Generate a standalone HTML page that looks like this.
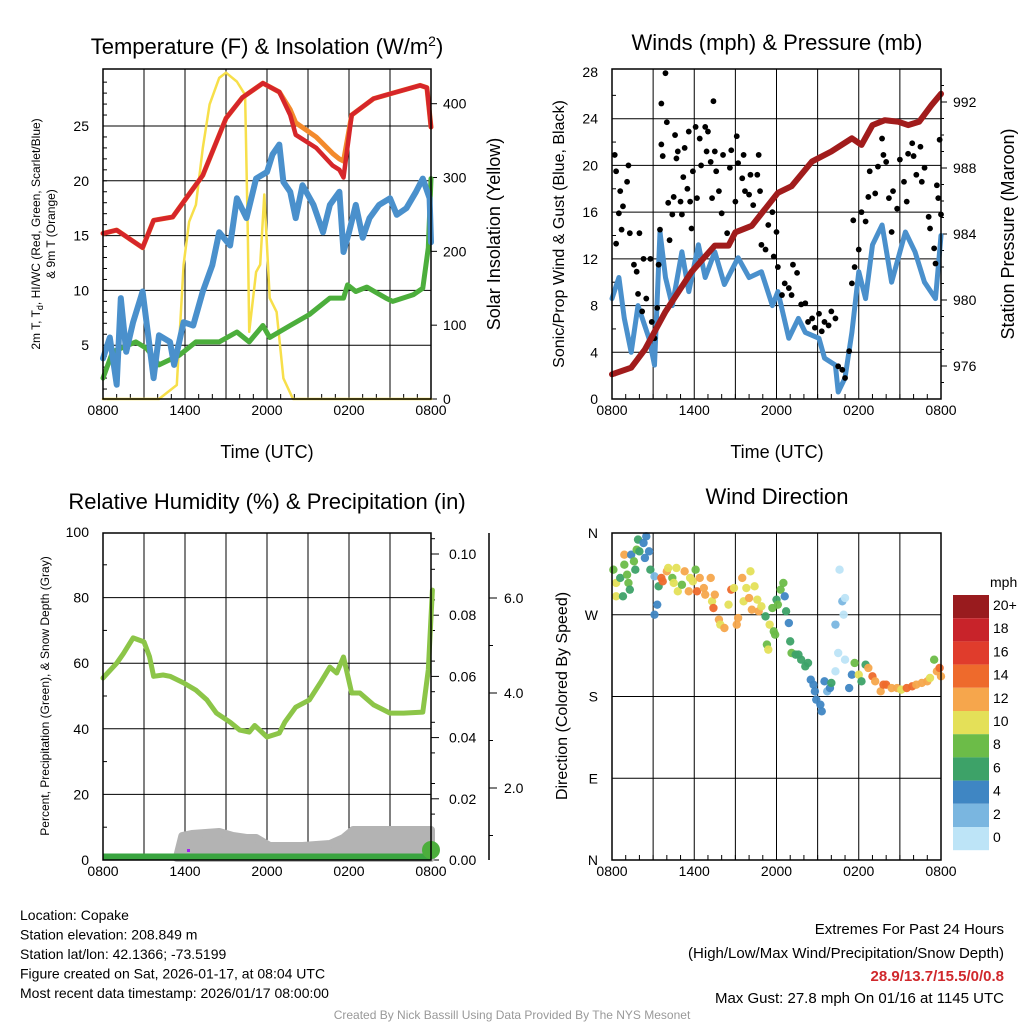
<!DOCTYPE html>
<html><head><meta charset="utf-8"><style>
body{margin:0;background:#fff;font-family:"Liberation Sans",sans-serif}
svg{display:block}
</style></head><body>
<svg id="s" width="1024" height="1024" viewBox="0 0 1024 1024" xmlns="http://www.w3.org/2000/svg" font-family="Liberation Sans, sans-serif"></svg>
<script>
// ---- data ----
const xTickLabels=["0800","1400","2000","0200","0800"];
const redHours=[0,1,2.9,3.7,5.1,6.6,7.3,9,10.2,11.7,12.9,13.7,14.1,15.6,16.8,17.3,17.6,18.2,19.8,21.2,23.2,23.7,24];
const tempRed=[15.2,15.5,13.9,16.4,16.7,19.3,20.5,25.7,27.6,28.9,28.1,26,24.2,23,21.4,21,20.3,26,27.5,28,28.7,28.5,24.9];
const tempOrange=[15.2,15.5,13.9,16.4,16.7,19.3,20.5,25.7,27.6,28.9,28.1,26.5,25.3,24,22.5,22,21.8,26,27.5,28,28.7,28.5,24.9];
const blueHours=[0,0.5,1.0,1.3,1.7,2.2,2.9,3.7,4.1,4.9,5.2,5.9,6.6,7.3,8.0,8.5,9.3,9.8,10.5,11.2,12.0,12.4,12.9,13.2,13.7,14.1,14.6,15.4,16.1,16.6,17.3,17.6,18.0,18.5,19.0,19.5,20.2,21.0,21.5,22.2,22.9,23.4,23.9,24];
const tempBlue=[3.8,5.7,1.4,9.3,4.4,7.1,9.9,2,5.9,5.3,3.2,7.1,6.8,9.9,12.3,15.3,14.1,18.4,16.6,20.2,20.8,22.4,23.3,19.9,19,16.6,19.6,17.8,15.3,17.8,19,13.5,15.3,17.8,14.8,16.6,17.8,18.4,16.9,17.5,19,20.2,18.4,14.4];
const greenHours=[0,0.7,2.4,3.2,4.1,5.6,6.8,8.5,9.8,10.7,11.7,12.2,13.7,15.1,16.6,17.6,17.9,18.5,19.3,20.7,21.2,22.7,23.4,23.8,24];
const tempGreen=[2,4.4,5.3,4.7,3.2,4.1,5.3,5.3,6.2,5.3,6.8,5.7,6.8,7.8,9.3,9.3,10.5,9.9,10.3,9.3,9,9.6,10.2,13.9,20.2];
const solarHours=[0,4.1,5.4,5.9,6.3,6.8,7.3,7.8,8.5,9.0,9.8,10.4,10.6,10.7,11.2,11.5,11.8,12.2,12.7,13.2,13.9,24];
const solarVals=[0,0,19,182,240,263,340,399,435,442,430,412,218,91,172,182,277,137,118,28,0,0];
const windHours=[0,0.5,0.9,1.4,1.9,2.7,3.1,3.5,3.9,4.4,5.1,5.6,6.3,6.8,7.5,8.2,9.2,10.0,10.9,11.7,12.1,12.9,13.6,14.1,15.1,15.5,16.3,16.5,17.0,17.5,18.0,18.5,19.0,19.7,20.4,21.4,22.1,22.8,23.6,24];
const windSpeed=[8.6,10.4,6.9,4,8,5.2,2.9,14.3,10.4,8,12.6,9.2,13.2,10.4,12.6,9.8,12.1,10.4,10.9,8,9.2,5.2,6.9,5.7,5.2,3.5,2.9,0.6,1.8,5.7,10.9,8.6,13.2,14.9,10,14.3,12.6,10,8.6,14];
const gustHours=[0.2,0.3,0.3,0.5,0.6,0.7,0.8,1.1,1.2,1.3,1.6,1.8,1.9,2.0,2.2,2.3,2.5,2.8,2.9,3.1,3.3,3.4,3.5,3.6,3.6,3.7,3.9,4.0,4.1,4.2,4.4,4.5,4.6,4.7,4.8,5.0,5.1,5.2,5.3,5.5,5.6,5.7,5.8,5.9,6.1,6.2,6.4,6.5,6.8,6.9,7.0,7.2,7.3,7.4,7.5,7.6,7.8,8.0,8.1,8.4,8.6,8.7,9.0,9.1,9.2,9.5,9.6,9.7,10.0,10.1,10.3,10.6,10.7,10.8,10.9,11.2,11.4,11.7,11.8,12.0,12.1,12.4,12.6,12.9,13.1,13.2,13.5,13.8,14.1,14.3,14.6,14.8,15.1,15.3,15.5,15.8,16.0,16.3,16.5,16.8,17.0,17.3,17.5,17.6,17.7,18.0,18.2,18.5,18.7,18.8,19.2,19.4,19.7,19.8,20.0,20.2,20.4,20.5,20.8,21.0,21.3,21.5,21.6,21.9,22.0,22.2,22.5,22.6,22.8,23.1,23.2,23.5,23.6,23.7,23.8,23.9,24.0];
const gustVals=[20.9,19.5,13.3,15.9,17.8,14.5,16.5,18.6,20.0,14.2,11.5,10.9,9.0,14.2,7.5,12.0,8.6,12.0,6.6,5.2,7.8,11.5,14.5,21.8,25.3,20.8,27.9,23.7,16.8,13.6,15.8,17.3,22.6,20.6,21.2,16.9,15.8,19.0,21.5,18.0,22.9,16.9,14.6,19.5,23.3,17.2,22.3,20.0,23.3,21.2,22.9,20.3,17.2,25.5,21.2,19.5,17.8,15.9,20.9,14.2,19.8,21.3,16.9,22.5,20.2,18.9,20.9,17.8,17.5,19.2,16.6,19.2,20.9,17.8,13.2,12.8,14.9,16.0,12.2,14.3,11.3,8.9,9.9,9.5,8.9,11.5,10.8,8.1,8.2,6.6,6.9,6.1,7.3,5.8,6.6,6.3,7.5,6.9,2.8,2.5,1.8,4.1,9.9,15.3,11.3,12.8,16.0,15.2,17.3,19.5,17.6,19.9,22.3,20.9,20.3,17.2,14.3,17.8,16.3,20.5,18.6,16.9,21.0,21.9,20.8,19.2,21.6,18.6,19.8,15.6,14.6,12.9,11.6,18.3,17.2,22.2,15.8];
const pressHours=[0,1.4,2.4,3.9,5.8,7.5,8.5,9.0,10.2,12.1,13.1,14.6,16.0,17.5,18.2,19.0,19.9,20.9,21.6,22.4,23.3,24];
const pressVals=[975.5,975.9,977,979.3,981.7,983.3,983.3,984.1,984.5,986.5,986.9,988.4,989,989.8,989.4,990.6,990.9,990.8,990.6,990.8,991.8,992.5];
const rhHours=[0,1,1.5,2.2,3,3.4,3.7,4.4,4.9,5.9,6.8,7.6,8.3,9.3,10,10.7,11.1,12,12.9,13.3,14.1,15.1,15.9,16.6,17.1,17.6,18.2,18.8,19.8,21,22,23.4,23.8,24.1];
const rhVals=[55.5,60,63,67.7,66.5,62,56,56.4,56,54,51.8,48.8,44.8,42,39.6,39,41,37.5,38.7,42,46.6,48.8,54,58.8,57,61.9,50.9,50.9,47.3,44.8,44.8,45.1,58,82.3];
const snowHours=[5.4,5.8,6.5,8.5,9.5,10.5,11.2,12.2,14.6,16.6,17.6,18.3,24];
const snowVals=[0,0.55,0.6,0.65,0.55,0.5,0.5,0.3,0.3,0.35,0.5,0.7,0.7];
const dirHours=[0.1,0.3,0.3,0.6,0.8,0.9,0.9,1.1,1.2,1.3,1.4,1.6,1.7,1.8,1.9,2.0,2.3,2.4,2.5,2.7,2.8,3.1,3.3,3.1,3.4,3.6,3.7,4.0,4.1,4.4,4.5,4.7,4.8,5.1,5.3,5.6,5.7,5.9,6.1,6.2,6.4,6.7,6.8,7.2,7.3,7.4,7.5,7.8,7.9,8.2,8.5,8.7,8.9,9.1,9.2,9.5,9.6,9.8,10.0,10.1,10.2,10.4,10.6,10.7,10.9,11.2,11.3,11.4,11.5,11.7,11.8,11.9,12.0,12.1,12.3,12.5,12.6,12.7,12.9,13.0,13.1,13.4,13.6,13.8,14.1,14.3,14.5,14.7,14.8,14.9,15.2,15.3,15.5,15.7,15.9,16.0,16.3,16.3,16.5,16.6,16.8,16.9,17.0,17.0,17.3,17.5,17.7,18.0,18.2,18.5,18.7,19.0,19.2,19.6,19.8,20.0,20.4,20.8,21.1,21.5,21.9,22.2,22.6,23.0,23.2,23.5,23.7,23.9,24.0];
const dirVals=[319.6,305,290.3,310.5,290.3,336.1,325.1,314.1,305,297.6,336.1,328.8,319.6,341.6,352.7,339.8,349,332.5,356.3,339.8,319.6,312.3,281.1,270.1,301.3,310.5,306.8,317.8,321.5,310.5,305,321.5,295.8,303,317.8,295.8,310.5,306.8,319.6,295.8,310.5,299.4,292.1,310.5,284.8,277.4,292.1,264.6,259.1,255.4,281.1,297.6,299.4,259.1,266.4,310.5,284.8,299.4,288.4,317.8,275.6,301.3,286.6,273.8,279.3,268.2,237.1,231.6,259.1,277.4,251.7,248.1,286.6,281.1,297.6,305,290.3,273.8,260.9,240.7,227.9,226.1,226.1,220.5,213.2,216.9,198.5,193,185.7,176.5,171,163.7,196.7,185.7,189.3,194.9,207.7,259.1,227.9,319.6,284.8,270.1,220.5,288.4,189.3,204,216.9,204,196.7,215,211.4,202.2,196.7,185.7,193,193,189.3,189.3,187.5,189.3,191.2,193,194.9,196.7,200.4,220.5,207.7,211.4,202.2];
const dirSpeed=[8,10,10,6,6,12,8,8,8,6,4,8,6,8,6,6,4,4,4,4,6,2,4,4,6,14,14,12,10,8,10,10,10,8,12,12,10,10,8,14,12,12,12,12,10,14,12,12,10,12,10,14,10,12,12,12,10,10,12,10,12,10,10,12,10,6,8,10,10,8,8,8,6,8,8,8,4,6,4,6,8,6,6,6,6,6,4,4,4,4,4,4,4,2,4,6,0,2,0,0,2,0,0,0,4,4,8,10,6,6,12,14,12,12,14,14,12,12,10,14,14,12,12,12,10,8,12,14,12];
const cbLabels=["20+","18","16","14","12","10","8","6","4","2","0"];
const cbColors=["#991b1e","#c8232a","#e03c2c","#ee6a2c","#f6a64c","#e4e058","#6cbc48","#3da268","#3f86c3","#7ab6e0","#bde4f7"];

const NS="http://www.w3.org/2000/svg";
const svg=document.getElementById('s');
function el(tag,attrs,parent,txt){const e=document.createElementNS(NS,tag);for(const k in attrs)e.setAttribute(k,attrs[k]);if(txt!==undefined)e.textContent=txt;(parent||svg).appendChild(e);return e;}
function lin(d0,d1,r0,r1){return v=>r0+(v-d0)/(d1-d0)*(r1-r0);}
function poly(xs,ys,fx,fy,attrs,name,g){const p=el('polyline',Object.assign({fill:'none','stroke-linejoin':'round','stroke-linecap':'round',points:xs.map((x,i)=>fx(x).toFixed(1)+','+fy(ys[i]).toFixed(1)).join(' ')},attrs),g);

return p;}
function panel(name,x0,x1,y0,y1){const g=el('g',{});


const fx=lin(0,24,x0,x1);
for(let h=3;h<24;h+=3){const x=fx(h);el('line',{x1:x,x2:x,y1:y0,y2:y1,stroke:'#000','stroke-width':1},g);}
xTickLabels.forEach((l,i)=>{const x=fx(i*6);
const t=el('text',{x:x,y:y1+16,'font-size':14,'text-anchor':'middle'},g,l);


for(let k=1;k<6&&i<4;k++){const xx=fx(i*6+k);el('line',{x1:xx,x2:xx,y1:y1,y2:y1-5,stroke:'#000'},g);}});
return {g,fx};}
function frame(g,x0,x1,y0,y1){el('rect',{x:x0,y:y0,width:x1-x0,height:y1-y0,fill:'none',stroke:'#000','stroke-width':1.5},g);}
function txt(x,y,s,t,attrs,name){const e=el('text',Object.assign({x:x,y:y,'font-size':s},attrs||{}),svg,t);

return e;}

// ---- Panel 1 ----
(function(){const X0=103,X1=431,Y0=69,Y1=399;const {g,fx}=panel('temperature-panel',X0,X1,Y0,Y1);
const fy=lin(0,30.2,400,69), fs=lin(0,447,399,69);
[5,10,15,20,25].forEach(v=>{const y=fy(v);el('line',{x1:X0,x2:X1,y1:y,y2:y,stroke:'#000'},g);el('text',{x:X0-14,y:y+5,'font-size':14,'text-anchor':'end'},g,v);});
for(let v=1;v<30;v++){el('line',{x1:X0,x2:X0+4,y1:fy(v),y2:fy(v),stroke:'#000'},g);}
[0,100,200,300,400].forEach(v=>{const y=fs(v);el('line',{x1:X1,x2:X1+6,y1:y,y2:y,stroke:'#000'},g);el('text',{x:X1+12,y:y+5,'font-size':14},g,v);});
poly(solarHours,solarVals,fx,fs,{stroke:'#f7df4a','stroke-width':2.5},'solar-line',g);
poly(greenHours,tempGreen,fx,fy,{stroke:'#4cae3c','stroke-width':5},'green-line',g);
poly(blueHours,tempBlue,fx,fy,{stroke:'#4a90cc','stroke-width':6},'dewpoint-line',g);
poly(redHours,tempOrange,fx,fy,{stroke:'#f38a2c','stroke-width':5},'9m-temp-line',g);
poly(redHours,tempRed,fx,fy,{stroke:'#d6262a','stroke-width':4.5},'2m-temp-line',g);
frame(g,X0,X1,Y0,Y1);
txt(267,54,22,'',{'text-anchor':'middle'},'chart-title-1').innerHTML='Temperature (F) &amp; Insolation (W/m<tspan dy="-8" font-size="14">2</tspan><tspan dy="8">)</tspan>';
txt(267,458,18,'Time (UTC)',{'text-anchor':'middle'},'x-axis-title-1');
txt(0,0,12,'',{transform:'translate(40,234) rotate(-90)','text-anchor':'middle'},'y-axis-title-1').innerHTML='2m T, T<tspan dy="3" font-size="9">d</tspan><tspan dy="-3">, HI/WC (Red, Green, Scarlet/Blue)</tspan>';
txt(0,0,12,'& 9m T (Orange)',{transform:'translate(55,234) rotate(-90)','text-anchor':'middle'},'y-axis-title-1b');
txt(0,0,18,'Solar Insolation (Yellow)',{transform:'translate(500,234) rotate(-90)','text-anchor':'middle'},'y2-axis-title-1');
})();

// ---- Panel 2 ----
(function(){const X0=612,X1=941,Y0=69,Y1=399;const {g,fx}=panel('winds-panel',X0,X1,Y0,Y1);
const fy=lin(0,28,399,72), fp=lin(976,992,366,102);
[4,8,12,16,20,24].forEach(v=>{const y=fy(v);el('line',{x1:X0,x2:X1,y1:y,y2:y,stroke:'#000'},g);});
[0,4,8,12,16,20,24,28].forEach(v=>{el('text',{x:X0-14,y:fy(v)+5,'font-size':14,'text-anchor':'end'},g,v);});
for(let v=2;v<28;v+=4){el('line',{x1:X0,x2:X0+4,y1:fy(v),y2:fy(v),stroke:'#000'},g);}
[976,980,984,988,992].forEach(v=>{const y=fp(v);el('line',{x1:X1,x2:X1+6,y1:y,y2:y,stroke:'#000'},g);el('text',{x:X1+12,y:y+5,'font-size':14},g,v);});
for(let v=975;v<994;v++){el('line',{x1:X1,x2:X1+3,y1:fp(v),y2:fp(v),stroke:'#000'},g);}
poly(windHours,windSpeed,fx,fy,{stroke:'#4a90cc','stroke-width':5},'wind-speed-line',g);
gustHours.forEach((h,i)=>{const c=el('circle',{cx:fx(h),cy:fy(gustVals[i]),r:2.9,fill:'#000'},g);

});
poly(pressHours,pressVals,fx,fp,{stroke:'#a11c1c','stroke-width':6},'pressure-line',g);
frame(g,X0,X1,Y0,Y1);
txt(777,50,22,'Winds (mph) & Pressure (mb)',{'text-anchor':'middle'},'chart-title-2');
txt(777,458,18,'Time (UTC)',{'text-anchor':'middle'},'x-axis-title-2');
txt(0,0,16,'Sonic/Prop Wind & Gust (Blue, Black)',{transform:'translate(564,234) rotate(-90)','text-anchor':'middle'},'y-axis-title-2');
txt(0,0,18,'Station Pressure (Maroon)',{transform:'translate(1014,234) rotate(-90)','text-anchor':'middle'},'y2-axis-title-2');
})();

// ---- Panel 3 ----
(function(){const X0=103,X1=431,Y0=533,Y1=860;const {g,fx}=panel('humidity-panel',X0,X1,Y0,Y1);
const fy=lin(0,100,860,532), fpr=lin(0,0.10,860,554), fsn=lin(0,2,883,788), fsd=lin(0,1,858,818);
[20,40,60,80].forEach(v=>{const y=fy(v);el('line',{x1:X0,x2:X1,y1:y,y2:y,stroke:'#000'},g);});
[0,20,40,60,80,100].forEach(v=>el('text',{x:X0-14,y:fy(v)+5,'font-size':14,'text-anchor':'end'},g,v));
for(let v=10;v<100;v+=20){el('line',{x1:X0,x2:X0+4,y1:fy(v),y2:fy(v),stroke:'#000'},g);}
["0.00","0.02","0.04","0.06","0.08","0.10"].forEach((l,i)=>{const y=fpr(i*0.02);el('line',{x1:X1,x2:X1+8,y1:y,y2:y,stroke:'#000'},g);el('text',{x:449,y:y+5,'font-size':14},g,l);});
for(let v=0.005;v<0.105;v+=0.01){el('line',{x1:X1,x2:X1+4,y1:fpr(v),y2:fpr(v),stroke:'#000'},g);}
el('line',{x1:489,x2:489,y1:533,y2:860,stroke:'#000','stroke-width':1.5},g);
["2.0","4.0","6.0"].forEach((l,i)=>{const y=fsn((i+1)*2);el('line',{x1:489,x2:497,y1:y,y2:y,stroke:'#000'},g);el('text',{x:504,y:y+5,'font-size':14},g,l);});
for(let v=1;v<7;v+=2){el('line',{x1:489,x2:493,y1:fsn(v),y2:fsn(v),stroke:'#000'},g);}
const pts=snowHours.map((h,i)=>fx(h).toFixed(1)+','+fsd(snowVals[i]).toFixed(1)).join(' ');
const sp=el('polygon',{points:fx(snowHours[0])+',858 '+pts+' '+fx(24)+',858',fill:'#b3b3b3',stroke:'#b3b3b3','stroke-width':8,'stroke-linejoin':'round'},g);


const pl=el('line',{x1:X0,x2:X1,y1:857,y2:857,stroke:'#3aa540','stroke-width':7},g);


el('circle',{cx:X1,cy:850,r:9,fill:'#4cae3c'},g);
el('rect',{x:187,y:849,width:3,height:3,fill:'#a020f0'},g);
poly(rhHours,rhVals,fx,fy,{stroke:'#8cc548','stroke-width':5},'rh-line',g);
frame(g,X0,X1,Y0,Y1);
txt(267,509,22,'Relative Humidity (%) & Precipitation (in)',{'text-anchor':'middle'},'chart-title-3');
txt(0,0,12,'Percent, Precipitation (Green), & Snow Depth (Gray)',{transform:'translate(49,696) rotate(-90)','text-anchor':'middle'},'y-axis-title-3');
})();

// ---- Panel 4 ----
(function(){const X0=612,X1=941,Y0=533,Y1=860;const {g,fx}=panel('wind-direction-panel',X0,X1,Y0,Y1);
const fy=lin(0,360,860,533);
[["N",0],["E",90],["S",180],["W",270],["N",360]].forEach(a=>{const y=fy(a[1]);if(a[1]%360)el('line',{x1:X0,x2:X1,y1:y,y2:y,stroke:'#000'},g);el('text',{x:X0-14,y:y+5,'font-size':14,'text-anchor':'end'},g,a[0]);});
const sc=s=>cbColors[10-Math.min(10,Math.round(s/2))];
dirHours.forEach((h,i)=>{const c=el('circle',{cx:fx(h),cy:fy(dirVals[i]),r:4.2,fill:sc(dirSpeed[i]),opacity:0.95},g);

});
frame(g,X0,X1,Y0,Y1);
txt(777,504,22,'Wind Direction',{'text-anchor':'middle'},'chart-title-4');
txt(0,0,16,'Direction (Colored By Speed)',{transform:'translate(567,696) rotate(-90)','text-anchor':'middle'},'y-axis-title-4');
const lg=el('g',{},svg);


cbColors.forEach((c,i)=>{el('rect',{x:953,y:595+i*23.2,width:36,height:23.2,fill:c},lg);el('text',{x:993,y:610+i*23.2,'font-size':14},lg,cbLabels[i]);});
el('text',{x:990,y:587,'font-size':14},lg,'mph');
})();

// ---- footer ----
["Location: Copake","Station elevation: 208.849 m","Station lat/lon: 42.1366; -73.5199","Figure created on Sat, 2026-01-17, at 08:04 UTC","Most recent data timestamp: 2026/01/17 08:00:00"].forEach((t,i)=>txt(20,920+i*19.5,14,t,{},'station-info-line'));
txt(1004,934,15,'Extremes For Past 24 Hours',{'text-anchor':'end'},'extremes-title');
txt(1004,958,15,'(High/Low/Max Wind/Precipitation/Snow Depth)',{'text-anchor':'end'},'extremes-subtitle');
txt(1004,981,15,'28.9/13.7/15.5/0/0.8',{'text-anchor':'end',fill:'#d0282c','font-weight':'bold'},'extremes-values');
txt(1004,1003,15,'Max Gust: 27.8 mph On 01/16 at 1145 UTC',{'text-anchor':'end'},'max-gust');
txt(512,1019,12,'Created By Nick Bassill Using Data Provided By The NYS Mesonet',{'text-anchor':'middle',fill:'#999'},'credit');
</script>
</body></html>
